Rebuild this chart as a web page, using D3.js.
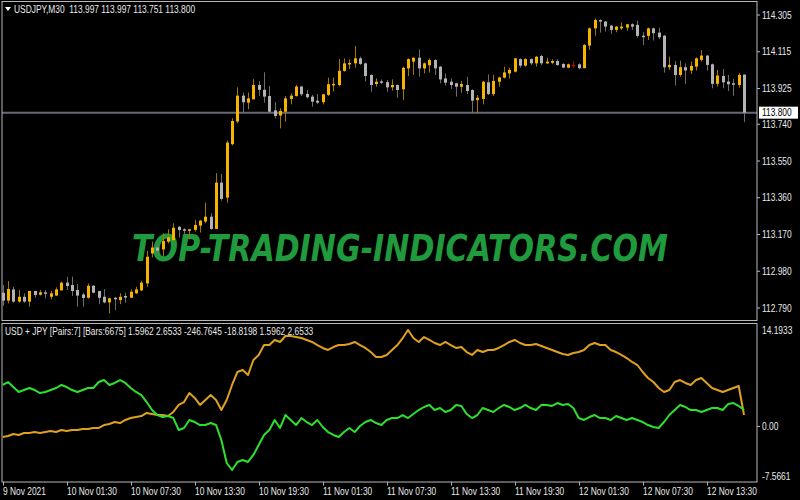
<!DOCTYPE html>
<html><head><meta charset="utf-8">
<script src="https://cdn.jsdelivr.net/npm/d3@7"></script>
<style>html,body{margin:0;padding:0;background:#000;overflow:hidden}svg{display:block}</style>
</head><body>
<svg id="chart" width="800" height="500"></svg>
<script>
const symbolTitle = "USDJPY,M30  113.997 113.997 113.751 113.800";
const indicatorTitle = "USD + JPY [Pairs:7] [Bars:6675] 1.5962 2.6533 -246.7645 -18.8198 1.5962 2.6533";
const watermark = "TOP-TRADING-INDICATORS.COM";

const opens = [112.869,112.828,112.886,112.823,112.848,112.823,112.878,112.859,112.871,112.848,
112.854,112.881,112.921,112.909,112.883,112.860,112.843,112.905,112.878,112.848,
112.819,112.843,112.831,112.852,112.843,112.866,112.881,112.917,113.072,113.103,
113.093,113.133,113.141,113.210,113.197,113.190,113.194,113.216,113.237,113.262,
113.199,113.438,113.361,113.637,113.754,113.888,113.852,113.869,113.943,113.918,
113.886,113.812,113.785,113.805,113.871,113.886,113.935,113.897,113.883,113.862,
113.854,113.892,113.942,113.943,114.016,114.052,114.055,114.081,114.055,113.995,
113.948,113.962,113.958,113.931,113.943,113.921,114.029,114.064,114.084,114.029,
114.045,114.072,114.038,113.977,113.960,113.952,113.934,113.943,113.917,113.865,
113.871,113.957,113.896,113.960,113.981,114.003,114.012,114.077,114.043,114.077,
114.055,114.093,114.055,114.058,114.067,114.052,114.033,114.047,114.050,114.030,
114.147,114.236,114.279,114.271,114.250,114.228,114.236,114.240,114.257,114.254,
114.198,114.197,114.236,114.214,114.198,114.035,114.047,113.995,114.035,114.018,
114.038,114.073,114.095,114.050,113.949,113.990,113.961,113.952,113.943,113.997];

const highs = [112.909,112.929,112.900,112.883,112.866,112.878,112.878,112.883,112.883,112.878,
112.897,112.926,112.952,112.952,112.914,112.869,112.917,112.909,112.878,112.888,
112.843,112.848,112.866,112.869,112.886,112.900,112.931,113.085,113.133,113.128,
113.176,113.197,113.228,113.214,113.202,113.200,113.245,113.245,113.335,113.280,
113.487,113.483,113.656,113.771,113.931,113.904,113.904,113.973,113.964,114.009,
113.938,113.854,113.823,113.886,113.900,113.943,113.938,113.918,113.892,113.897,
113.897,113.981,113.981,114.078,114.081,114.076,114.145,114.090,114.059,113.998,
113.977,113.972,113.969,113.972,113.946,114.038,114.081,114.086,114.127,114.060,
114.081,114.076,114.041,114.003,113.977,113.955,113.964,113.986,113.921,113.891,
113.964,113.998,113.995,113.986,114.038,114.032,114.081,114.081,114.081,114.081,
114.093,114.098,114.084,114.076,114.076,114.055,114.054,114.067,114.055,114.155,
114.240,114.288,114.283,114.274,114.254,114.248,114.267,114.259,114.262,114.276,
114.216,114.240,114.240,114.240,114.202,114.090,114.067,114.069,114.055,114.064,
114.086,114.124,114.099,114.054,114.021,114.026,113.995,113.974,114.004,113.997];

const lows = [112.802,112.814,112.817,112.817,112.817,112.797,112.843,112.854,112.840,112.835,
112.854,112.881,112.883,112.852,112.797,112.797,112.838,112.866,112.809,112.814,
112.762,112.779,112.810,112.817,112.843,112.862,112.878,112.900,113.052,113.055,
113.055,113.124,113.133,113.155,113.159,113.145,113.185,113.180,113.228,113.194,
113.199,113.345,113.335,113.630,113.745,113.797,113.818,113.869,113.886,113.852,
113.800,113.771,113.719,113.754,113.843,113.883,113.886,113.874,113.831,113.845,
113.843,113.886,113.909,113.935,114.012,114.026,114.033,114.047,113.961,113.908,
113.934,113.948,113.908,113.914,113.877,113.865,113.989,113.995,113.986,114.003,
114.007,113.995,113.952,113.940,113.922,113.883,113.903,113.896,113.796,113.796,
113.843,113.891,113.886,113.934,113.977,113.977,114.008,114.032,114.038,114.046,
114.038,114.046,114.051,114.051,114.043,114.030,114.030,114.030,114.024,114.030,
114.124,114.198,114.214,114.219,114.207,114.216,114.228,114.224,114.228,114.188,
114.150,114.176,114.173,114.180,114.007,114.021,113.940,113.986,113.949,114.000,
114.018,114.064,114.018,113.926,113.935,113.926,113.912,113.887,113.930,113.751];

const closes = [112.828,112.888,112.823,112.848,112.823,112.878,112.857,112.871,112.864,112.866,
112.886,112.921,112.904,112.878,112.854,112.842,112.905,112.869,112.843,112.819,
112.840,112.836,112.848,112.845,112.874,112.886,112.921,113.055,113.103,113.086,
113.136,113.155,113.205,113.193,113.190,113.197,113.219,113.242,113.262,113.199,
113.438,113.354,113.645,113.757,113.888,113.854,113.874,113.943,113.918,113.883,
113.805,113.783,113.809,113.874,113.888,113.935,113.895,113.880,113.857,113.852,
113.895,113.947,113.949,114.017,114.055,114.057,114.081,114.052,113.990,113.943,
113.960,113.955,113.931,113.943,113.917,114.032,114.077,114.084,114.029,114.055,
114.072,114.029,113.972,113.955,113.943,113.934,113.948,113.912,113.862,113.877,
113.960,113.896,113.964,113.982,114.008,114.021,114.081,114.043,114.077,114.055,
114.089,114.055,114.064,114.067,114.046,114.033,114.050,114.047,114.030,114.150,
114.236,114.279,114.271,114.245,114.228,114.245,114.245,114.257,114.245,114.197,
114.193,114.236,114.211,114.190,114.035,114.047,113.995,114.035,114.018,114.042,
114.081,114.095,114.047,113.949,113.992,113.957,113.947,113.947,113.995,113.800];

const usdLine = [-1.47,-1.33,-1.05,-1.19,-0.91,-0.91,-0.78,-0.91,-0.78,-0.64,
-0.78,-0.50,-0.64,-0.50,-0.50,-0.36,-0.36,-0.22,-0.22,0.19,
0.33,0.61,0.47,0.89,1.16,1.30,1.44,1.86,1.72,1.58,
1.58,1.44,2.00,2.97,3.38,4.63,3.94,2.97,3.66,4.35,
3.66,2.27,3.66,5.74,7.54,7.82,7.12,9.20,9.90,11.28,
11.28,11.98,11.70,12.53,12.53,12.39,12.25,11.98,11.70,11.28,
10.87,10.59,11.00,11.28,11.28,11.42,11.70,11.28,10.87,10.31,
9.62,9.62,9.90,10.59,11.28,12.25,13.36,12.25,11.70,12.39,
11.98,11.56,11.28,11.70,11.28,10.87,11.00,10.31,9.90,10.59,
10.31,10.59,10.59,10.87,11.28,11.70,11.98,11.56,11.28,11.28,
11.42,11.14,10.87,10.59,10.31,10.03,9.90,10.17,10.31,10.59,
11.28,11.56,11.28,11.28,10.59,10.31,9.90,9.48,8.93,8.51,
7.54,6.71,6.15,5.32,4.77,5.04,6.15,6.43,6.02,5.74,
6.43,6.71,6.02,5.32,5.04,4.77,5.04,5.32,5.60,1.58];

const jpyLine = [5.74,6.15,5.46,4.77,5.04,5.32,5.04,4.63,4.77,5.04,
5.32,5.74,5.46,5.04,4.77,5.04,5.32,5.32,6.15,6.43,
5.74,6.02,6.43,6.02,5.32,4.77,4.35,3.38,2.27,1.58,
1.30,1.44,1.16,-0.50,-0.22,0.89,0.61,0.19,0.19,0.47,
0.19,-1.89,-5.07,-6.04,-4.93,-4.66,-4.93,-3.96,-2.58,-1.19,
-0.50,0.89,-0.22,1.58,0.89,0.19,1.16,0.61,0.19,0.89,
-0.08,-0.78,-1.19,-1.47,-0.78,-0.22,-0.78,0.06,0.61,0.89,
0.47,0.19,0.89,1.16,1.16,1.58,1.16,1.72,2.27,2.69,
2.97,2.27,2.55,2.00,2.27,2.97,2.83,1.72,1.16,1.58,
2.55,2.27,2.00,2.55,2.97,2.69,2.27,2.55,2.97,2.55,
2.27,2.97,2.97,2.83,3.24,2.97,3.10,2.55,1.16,0.89,
1.30,1.58,1.16,1.16,0.89,1.44,1.16,0.89,1.16,0.89,
0.61,0.19,-0.08,-0.22,0.61,1.58,2.27,2.97,2.69,2.27,
2.27,2.00,2.27,2.55,2.55,2.27,3.10,3.24,2.83,2.27];

const priceTicks = [114.305,114.115,113.925,113.740,113.550,113.360,113.170,112.980,112.790];
const priceTickLabels = ["114.305","114.115","113.925","113.740","113.550","113.360","113.170","112.980","112.790"];
const currentPrice = 113.800;
const indTicks = [14.1933, 0, -7.5661];
const indTickLabels = ["14.1933","0.00","-7.5661"];
const timeTickBars = [0,12,24,36,48,60,72,84,96,108,120,132];
const timeTickLabels = ["9 Nov 2021","10 Nov 01:30","10 Nov 07:30","10 Nov 13:30","10 Nov 19:30","11 Nov 01:30","11 Nov 07:30","11 Nov 13:30","11 Nov 19:30","12 Nov 01:30","12 Nov 07:30","12 Nov 13:30"];

const svg = d3.select("#chart");
const FONT = "'Liberation Sans',Arial,sans-serif";
const TXT = "#e8e8e8";
const FRAME = "#b8b8b8";
const SX = 0.84;

const L = 2, R = 757, mainTop = 1.5, mainBot = 320.5, indTop = 323.5, indBot = 482;

function label(parent, tx, ty, str, fill) {
  return parent.append("text")
    .attr("transform", `translate(${tx},${ty}) scale(${SX},1)`)
    .attr("font-family", FONT).attr("font-size", 10)
    .attr("fill", fill || TXT).attr("xml:space","preserve").text(str);
}

svg.append("rect").attr("width",800).attr("height",500).attr("fill","#000");

const x = d3.scaleLinear().domain([0, 12]).range([2.7, 66.7]);
const y = d3.scaleLinear().domain([112.790, 114.305]).range([308, 15]);
const yi = d3.scaleLinear().domain([-7.5661, 14.1933]).range([481, 324]);

// watermark
const wm = svg.append("text").attr("x", 0).attr("y", 0)
  .attr("text-anchor","middle")
  .attr("font-family","'DejaVu Sans',sans-serif").attr("font-weight","bold").attr("font-style","italic")
  .attr("font-size", 37).attr("fill","#1f9a3c")
  .text(watermark);
const wmW = wm.node().getComputedTextLength();
wm.attr("transform", `translate(400,261) scale(${536 / wmW},1)`);

// current price line
svg.append("line").attr("x1", L).attr("x2", R)
  .attr("y1", y(currentPrice)).attr("y2", y(currentPrice))
  .attr("stroke","#6a6878").attr("stroke-width",2);

// candles
const bars = d3.range(opens.length).map(i => ({i, o:opens[i], h:highs[i], l:lows[i], c:closes[i]}));
const g = svg.append("g");
function colors(d){
  if (d.o === d.c) return {body:"#d00000", wick:"#a00000"};
  if (d.c > d.o) return {body:"#f6b400", wick:"#a07800"};
  return {body:"#b4b4b4", wick:"#6c6c6c"};
}
g.selectAll("line.wick").data(bars).enter().append("line")
  .attr("x1", d => Math.round(x(d.i)) + 0.5).attr("x2", d => Math.round(x(d.i)) + 0.5)
  .attr("y1", d => y(d.h)).attr("y2", d => y(d.l))
  .attr("stroke", d => colors(d).wick).attr("stroke-width", 1);
g.selectAll("rect.body").data(bars).enter().append("rect")
  .attr("x", d => Math.round(x(d.i)) - 1)
  .attr("width", 3)
  .attr("y", d => y(Math.max(d.o, d.c)))
  .attr("height", d => Math.max(1.5, Math.abs(y(d.o) - y(d.c))))
  .attr("fill", d => colors(d).body);

// frames
svg.append("rect").attr("x", L).attr("y", mainTop).attr("width", R-L).attr("height", mainBot-mainTop)
  .attr("fill","none").attr("stroke",FRAME).attr("stroke-width",1);
svg.append("rect").attr("x", L).attr("y", indTop).attr("width", R-L).attr("height", indBot-indTop)
  .attr("fill","none").attr("stroke",FRAME).attr("stroke-width",1);

// price axis
const pa = svg.append("g");
priceTicks.forEach((v,k) => {
  const yy = y(v);
  pa.append("line").attr("x1",R).attr("x2",R+3).attr("y1",yy).attr("y2",yy).attr("stroke",FRAME);
  label(pa, R+5, yy+3.5, priceTickLabels[k]);
});
const cy = y(currentPrice);
pa.append("rect").attr("x", R+2).attr("y", cy-6).attr("width", 39).attr("height", 12).attr("fill","#fff");
label(pa, R+5, cy+3.5, currentPrice.toFixed(3), "#000");

// header
svg.append("path").attr("d","M5,7 L11,7 L8,11 Z").attr("fill","#fff");
label(svg, 14, 12.5, symbolTitle);

// indicator lines
const line = d3.line().x((d,i) => x(i)).y(d => yi(d));
svg.append("path").datum(usdLine).attr("d", line).attr("fill","none")
  .attr("stroke","#e0a020").attr("stroke-width",2).attr("stroke-linejoin","round");
svg.append("path").datum(jpyLine).attr("d", line).attr("fill","none")
  .attr("stroke","#2ee02e").attr("stroke-width",2).attr("stroke-linejoin","round");

label(svg, 5, 334.5, indicatorTitle);

// indicator axis
indTicks.forEach((v,k) => {
  const yy = Math.min(476.5, Math.max(330, yi(v)));
  if (v === 0) svg.append("line").attr("x1",R).attr("x2",R+3).attr("y1",yy).attr("y2",yy).attr("stroke",FRAME);
  label(svg, R+5, yy+3.5, indTickLabels[k]);
});

// time axis
timeTickBars.forEach((b,k) => {
  const xx = Math.round(x(b)) + 0.5;
  svg.append("line").attr("x1",xx).attr("x2",xx).attr("y1",indBot).attr("y2",indBot+3.5).attr("stroke",FRAME);
  label(svg, xx-0.5, 495, timeTickLabels[k]);
});
</script>
</body></html>
